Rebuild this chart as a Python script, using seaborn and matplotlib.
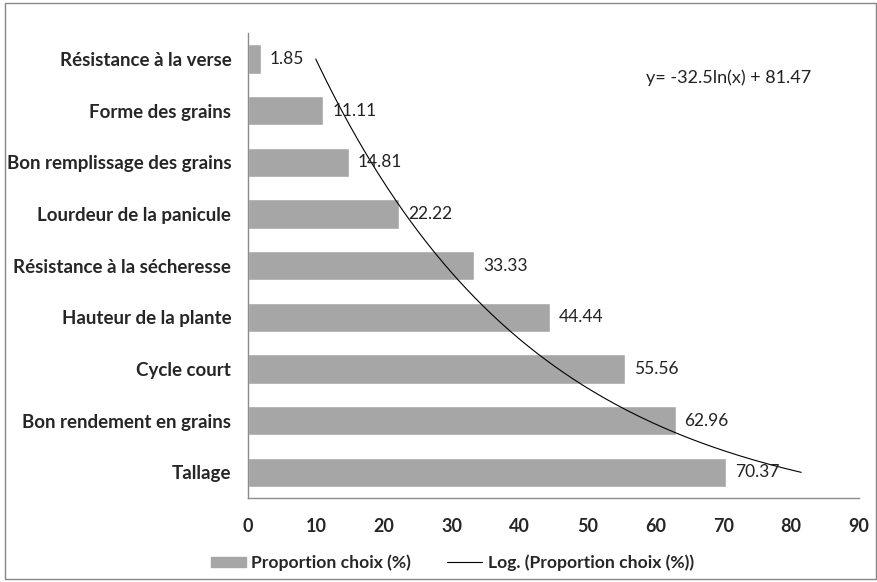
import numpy as np
import pandas as pd
import matplotlib
matplotlib.use("Agg")
import matplotlib.pyplot as plt
import seaborn as sns
from matplotlib.patches import Rectangle, Patch
from matplotlib.lines import Line2D

# Données (ordre de haut en bas)
criteres = ["Résistance à la verse", "Forme des grains", "Bon remplissage des grains",
            "Lourdeur de la panicule", "Résistance à la sécheresse", "Hauteur de la plante",
            "Cycle court", "Bon rendement en grains", "Tallage"]
proportions = [1.85, 11.11, 14.81, 22.22, 33.33, 44.44, 55.56, 62.96, 70.37]
graduations = [0, 10, 20, 30, 40, 50, 60, 70, 80, 90]

sns.set_style("white")
plt.rcParams['font.family'] = ['Lato', 'DejaVu Sans']

df = pd.DataFrame({"critere": criteres, "proportion": proportions})

fig = plt.figure(figsize=(8.78, 5.82), dpi=100)
ax = fig.add_axes([0.2825, 0.144, 0.696, 0.799])

sns.barplot(data=df, x="proportion", y="critere", color="#a6a6a6", saturation=1,
            width=0.57, ax=ax, orient="h")

# Tendance logarithmique (x = rang de la catégorie dans Excel, Tallage = 1)
rang = np.arange(1, len(proportions) + 1)
vals_excel = np.array(proportions[::-1])
pente, ordonnee = np.polyfit(np.log(rang), vals_excel, 1)
xs = np.linspace(1, len(proportions), 200)
ys_val = pente * np.log(xs) + ordonnee
pos_y = len(proportions) - xs  # position sur l'axe des catégories
ax.plot(ys_val, pos_y, color="black", linewidth=0.8)

for i, v in enumerate(proportions):
    ax.text(v + 1.3, i, f"{v:.2f}", va="center", ha="left", fontsize=12.5, color="#222222")

ax.text(0.651, 0.905, f"y= {pente:.1f}ln(x) + {ordonnee:.2f}", transform=ax.transAxes,
        fontsize=13, color="#222222", va="center")

ax.set_xlim(0, 90)
ax.set_ylim(len(proportions) - 0.5, -0.5)
ax.set_xticks(graduations)
ax.set_xticklabels([str(g) for g in graduations], fontsize=13, fontweight="bold")
ax.set_yticks(range(len(criteres)))
ax.set_yticklabels(criteres, fontsize=13.5, fontweight="bold")
ax.set_xlabel("")
ax.set_ylabel("")
ax.tick_params(axis="x", length=0, pad=14)
ax.tick_params(axis="y", length=0, pad=12)
for s in ["top", "right"]:
    ax.spines[s].set_visible(False)
for s in ["left", "bottom"]:
    ax.spines[s].set_color("#8c8c8c")
    ax.spines[s].set_linewidth(1)

# Légende
handles = [Patch(color="#a6a6a6", label="Proportion choix (%)"),
           Line2D([0], [0], color="black", lw=0.8, label="Log. (Proportion choix (%))")]
fig.legend(handles=handles, loc="center", bbox_to_anchor=(0.515, 0.033), ncol=2,
           frameon=False, handlelength=2.0, handleheight=0.57, handletextpad=0.3,
           columnspacing=2.1, borderpad=0.2, prop={"weight": "bold", "size": 12.6})

# Cadre extérieur
fig.patches.append(Rectangle((0.006, 0.005), 0.992, 0.99, transform=fig.transFigure,
                             fill=False, edgecolor="#868686", linewidth=1))

fig.savefig("out.png", dpi=100)
